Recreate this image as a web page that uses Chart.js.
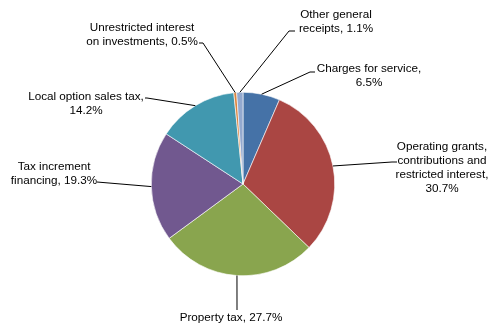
<!DOCTYPE html>
<html>
<head>
<meta charset="utf-8">
<script src="https://cdn.jsdelivr.net/npm/chart.js@4"></script>
<style>
  html, body { margin: 0; padding: 0; background: #fff; }
  #wrap { width: 491px; height: 327px; position: relative; }
</style>
</head>
<body>
<div id="wrap"><canvas id="revChart"></canvas></div>
<script>
// data, in drawing order (clockwise from 12 o'clock)
const categories = [
    'Charges for service',
    'Operating grants, contributions and restricted interest',
    'Property tax',
    'Tax increment financing',
    'Local option sales tax',
    'Unrestricted interest on investments',
    'Other general receipts'
];
const shares = [6.5, 30.7, 27.7, 19.3, 14.2, 0.5, 1.1];
const sliceColors = ['#4572A7', '#AA4643', '#89A54E', '#71588F', '#4198AF', '#DB843D', '#93A9CF'];

// how the text of each data label is broken into lines
const labelLines = [
    ['Charges for service,', '6.5%'],
    ['Operating grants,', 'contributions and', 'restricted interest,', '30.7%'],
    ['Property tax, 27.7%'],
    ['Tax increment', 'financing, 19.3%'],
    ['Local option sales tax,', '14.2%'],
    ['Unrestricted interest', 'on investments, 0.5%'],
    ['Other general', 'receipts, 1.1%']
];

// label placement: text centre x, first line y, leader elbow and end
const labelLayout = [
    { x: 369, y: 69,  elbow: [310, 72],  end: [315, 72] },
    { x: 442, y: 147, elbow: [392, 162], end: [397, 162] },
    { x: 231, y: 318, elbow: [237, 310], end: [237, 310] },
    { x: 54,  y: 167, elbow: [97, 182],  end: [97, 182] },
    { x: 86,  y: 97,  elbow: [147, 98],  end: [145, 98] },
    { x: 142, y: 28,  elbow: [203, 43],  end: [199, 43] },
    { x: 336, y: 15,  elbow: [289, 31],  end: [295, 31] }
];

const leaderLabels = {
    id: 'leaderLabels',
    afterDatasetsDraw(chart) {
        const c = chart.ctx;
        const arcs = chart.getDatasetMeta(0).data;
        c.save();
        arcs.forEach((arc, i) => {
            const p = arc.getProps(['x', 'y', 'startAngle', 'endAngle', 'outerRadius'], true);
            const mid = (p.startAngle + p.endAngle) / 2;
            const sx = p.x + Math.cos(mid) * p.outerRadius;
            const sy = p.y + Math.sin(mid) * p.outerRadius;
            const L = labelLayout[i];
            c.strokeStyle = '#000';
            c.lineWidth = 1;
            c.beginPath();
            c.moveTo(sx, sy);
            c.lineTo(L.elbow[0], L.elbow[1]);
            c.lineTo(L.end[0], L.end[1]);
            c.stroke();
            c.fillStyle = '#000';
            c.font = '11.7px "Liberation Sans", Arial, sans-serif';
            c.textAlign = 'center';
            c.textBaseline = 'middle';
            labelLines[i].forEach((t, k) => {
                c.fillText(t, L.x, L.y + k * 14);
            });
        });
        c.restore();
    }
};

const ctx = document.getElementById('revChart').getContext('2d');

const revChart = new Chart(ctx, {
    type: 'pie',
    data: {
        labels: categories,
        datasets: [{
            data: shares,
            backgroundColor: sliceColors,
            borderColor: '#fff',
            borderWidth: 0.6
        }]
    },
    options: {
        responsive: true,
        maintainAspectRatio: false,
        animation: false,
        layout: {
            padding: { top: 92, bottom: 51, left: 151, right: 156 }
        },
        plugins: {
            legend: { display: false },
            tooltip: { enabled: false }
        }
    },
    plugins: [leaderLabels]
});
</script>
</body>
</html>
